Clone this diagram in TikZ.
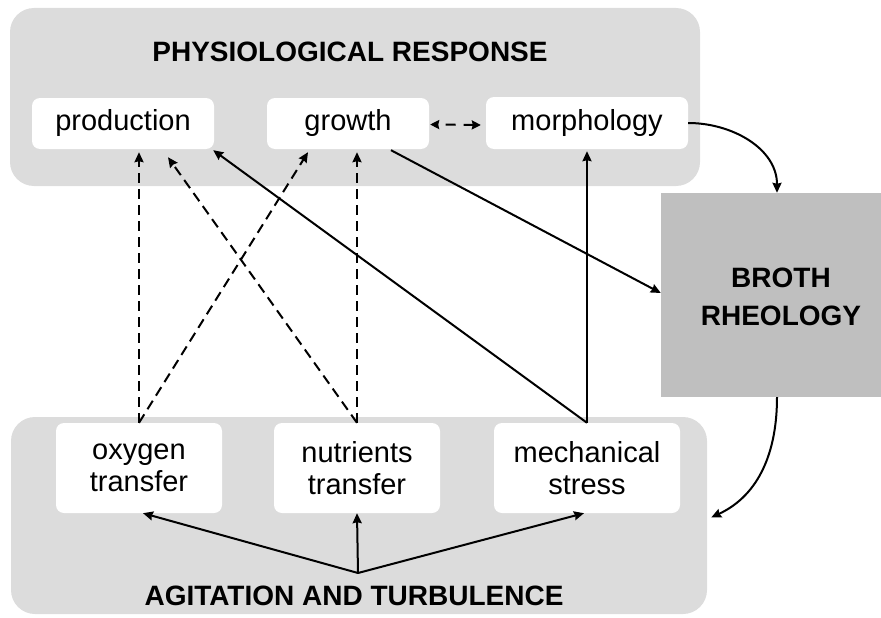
\documentclass[tikz,border=0pt]{standalone}
\usepackage{fontspec}
\setmainfont{Liberation Sans}
\usetikzlibrary{calc,arrows.meta}
\definecolor{panelgray}{HTML}{DCDCDC}
\definecolor{brothgray}{HTML}{BFBFBF}
\begin{document}
\begin{tikzpicture}[x=1pt,y=-1pt,
  panel/.style={fill=panelgray, rounded corners=24pt, inner sep=0pt},
  box/.style={fill=white, rounded corners=8pt, inner sep=0pt, align=center,
    font=\fontsize{29}{32}\selectfont},
  ttl/.style={font=\fontsize{28}{34}\selectfont\bfseries, inner sep=0pt, align=center},
  tip/.style={Stealth[length=10pt,width=9pt,inset=1pt]},
  conn/.style={line width=2pt, -{Stealth[length=10pt,width=9pt,inset=1pt]}},
  dconn/.style={conn, dash pattern=on 10pt off 6pt},
  dconn2/.style={line width=2pt, dash pattern=on 10pt off 8pt, dash phase=-8pt,
    {Stealth[length=9pt,width=9pt,inset=1pt]}-{Stealth[length=9pt,width=9pt,inset=1pt]}},
]
\useasboundingbox (0,0) rectangle (881,618);

% panels
\node[panel, minimum width=690pt, minimum height=178pt] (toppanel) at (355,97) {};
\node[panel, minimum width=696pt, minimum height=197pt] (bottompanel) at (359,515.5) {};
\node[fill=brothgray, inner sep=0pt, minimum width=232pt, minimum height=204pt] (broth) at (777,295) {};
\node[font=\fontsize{28}{38}\selectfont\bfseries, align=center, inner sep=0pt] (brothtext) at (781,297) {BROTH\\RHEOLOGY};

% titles
\node[ttl] (toptitle) at (350,52) {PHYSIOLOGICAL RESPONSE};
\node[ttl] (bottomtitle) at (354,596) {AGITATION AND TURBULENCE};

% boxes
\node[box, minimum width=182pt, minimum height=51pt] (production) at (123,123.5) {production};
\node[box, minimum width=162pt, minimum height=51pt] (growth) at (348,123.5) {growth};
\node[box, minimum width=202pt, minimum height=52pt] (morphology) at (587,123) {morphology};
\node[box, minimum width=166pt, minimum height=90pt] (oxygen) at (139,468) {oxygen\\transfer};
\node[box, minimum width=166pt, minimum height=90pt] (nutrients) at (357,468) {nutrients\\transfer};
\node[box, minimum width=186pt, minimum height=90pt] (mechanical) at (587,468) {mechanical\\stress};

\coordinate (fan) at (358,573);

% dashed connectors
\draw[dconn] (oxygen.north) -- ($(oxygen.north |- production.south)+(0,3)$);
\draw[dconn] (oxygen.north) -- ($(growth.south)+(-40,3)$);
\draw[dconn] (nutrients.north) -- ($(production.south)+(45,8)$);
\draw[dconn] (nutrients.north) -- ($(nutrients.north |- growth.south)+(0,3)$);
\draw[dconn2] ($(growth.east)+(1,1)$) -- ($(morphology.west)+(-5,2)$);

% solid connectors
\draw[conn] (mechanical.north) -- ($(production.south east)+(-1,1)$);
\draw[conn] (mechanical.north) -- ($(mechanical.north |- morphology.south)+(0,2)$);
\draw[conn] ($(growth.south)+(43,1)$) -- ($(broth.west)+(0,-2)$);
\draw[conn] (morphology.east) to[out=0,in=90] (broth.north);
\draw[conn] (broth.south) to[out=-90,in=25] ($(bottompanel.east)+(4,2)$);

% fan from agitation
\draw[conn] (fan) -- ($(oxygen.south)+(4,0)$);
\draw[conn] (fan) -- (nutrients.south);
\draw[conn] (fan) -- ($(mechanical.south)+(-3,0)$);
\end{tikzpicture}
\end{document}
